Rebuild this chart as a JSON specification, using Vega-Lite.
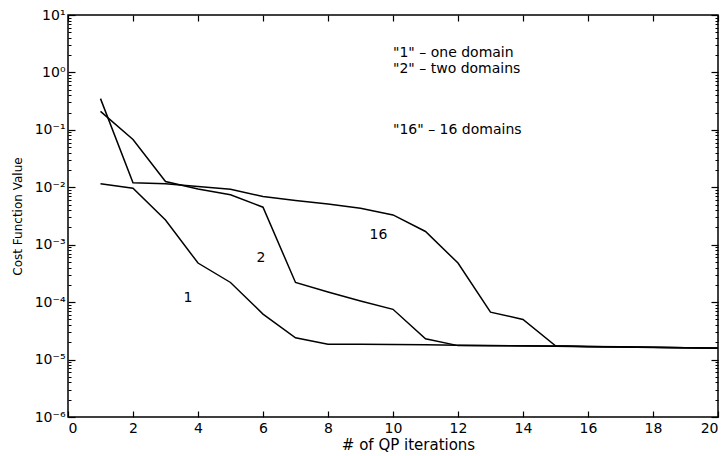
{
  "$schema": "https://vega.github.io/schema/vega-lite/v6.json",
  "width": 650,
  "height": 402,
  "autosize": {"type": "none"},
  "padding": {"left": 68, "top": 15, "right": 8, "bottom": 39},
  "background": "white",
  "config": {
    "view": {"stroke": "black", "strokeWidth": 1.5},
    "font": "DejaVu Sans",
    "axis": {
      "domain": false,
      "tickColor": "black",
      "tickWidth": 1.2,
      "labelColor": "black",
      "titleColor": "black",
      "labelFont": "DejaVu Sans",
      "titleFont": "DejaVu Sans",
      "labelFontSize": 14,
      "titleFontSize": 13,
      "titleFontWeight": "normal",
      "grid": false
    }
  },
  "datasets": {
    "curves": [
      {"iter": 1, "cost": 0.0115, "series": "1"},
      {"iter": 2, "cost": 0.0096, "series": "1"},
      {"iter": 3, "cost": 0.0027, "series": "1"},
      {"iter": 4, "cost": 0.00048, "series": "1"},
      {"iter": 5, "cost": 0.00022, "series": "1"},
      {"iter": 6, "cost": 0.000062, "series": "1"},
      {"iter": 7, "cost": 0.000024, "series": "1"},
      {"iter": 8, "cost": 0.0000185, "series": "1"},
      {"iter": 9, "cost": 0.0000184, "series": "1"},
      {"iter": 10, "cost": 0.0000183, "series": "1"},
      {"iter": 11, "cost": 0.0000181, "series": "1"},
      {"iter": 12, "cost": 0.0000178, "series": "1"},
      {"iter": 13, "cost": 0.0000176, "series": "1"},
      {"iter": 14, "cost": 0.0000174, "series": "1"},
      {"iter": 15, "cost": 0.0000172, "series": "1"},
      {"iter": 16, "cost": 0.0000169, "series": "1"},
      {"iter": 17, "cost": 0.0000166, "series": "1"},
      {"iter": 18, "cost": 0.0000164, "series": "1"},
      {"iter": 19, "cost": 0.0000161, "series": "1"},
      {"iter": 20, "cost": 0.0000158, "series": "1"},
      {"iter": 1, "cost": 0.21, "series": "2"},
      {"iter": 2, "cost": 0.068, "series": "2"},
      {"iter": 3, "cost": 0.0126, "series": "2"},
      {"iter": 4, "cost": 0.0093, "series": "2"},
      {"iter": 5, "cost": 0.0074, "series": "2"},
      {"iter": 6, "cost": 0.0045, "series": "2"},
      {"iter": 7, "cost": 0.00022, "series": "2"},
      {"iter": 8, "cost": 0.00015, "series": "2"},
      {"iter": 9, "cost": 0.000105, "series": "2"},
      {"iter": 10, "cost": 0.000075, "series": "2"},
      {"iter": 11, "cost": 0.000023, "series": "2"},
      {"iter": 12, "cost": 0.0000175, "series": "2"},
      {"iter": 13, "cost": 0.0000174, "series": "2"},
      {"iter": 14, "cost": 0.0000173, "series": "2"},
      {"iter": 15, "cost": 0.0000171, "series": "2"},
      {"iter": 16, "cost": 0.0000168, "series": "2"},
      {"iter": 17, "cost": 0.0000166, "series": "2"},
      {"iter": 18, "cost": 0.0000163, "series": "2"},
      {"iter": 19, "cost": 0.0000161, "series": "2"},
      {"iter": 20, "cost": 0.0000158, "series": "2"},
      {"iter": 1, "cost": 0.35, "series": "16"},
      {"iter": 2, "cost": 0.012, "series": "16"},
      {"iter": 3, "cost": 0.0115, "series": "16"},
      {"iter": 4, "cost": 0.0103, "series": "16"},
      {"iter": 5, "cost": 0.0092, "series": "16"},
      {"iter": 6, "cost": 0.0069, "series": "16"},
      {"iter": 7, "cost": 0.0059, "series": "16"},
      {"iter": 8, "cost": 0.0051, "series": "16"},
      {"iter": 9, "cost": 0.0043, "series": "16"},
      {"iter": 10, "cost": 0.0033, "series": "16"},
      {"iter": 11, "cost": 0.0017, "series": "16"},
      {"iter": 12, "cost": 0.00048, "series": "16"},
      {"iter": 13, "cost": 0.000067, "series": "16"},
      {"iter": 14, "cost": 0.00005, "series": "16"},
      {"iter": 15, "cost": 0.0000174, "series": "16"},
      {"iter": 16, "cost": 0.0000169, "series": "16"},
      {"iter": 17, "cost": 0.0000167, "series": "16"},
      {"iter": 18, "cost": 0.0000164, "series": "16"},
      {"iter": 19, "cost": 0.0000161, "series": "16"},
      {"iter": 20, "cost": 0.0000159, "series": "16"}
    ],
    "curveLabels": [
      {"iter": 3.69, "cost": 0.000117, "label": "1"},
      {"iter": 5.94, "cost": 0.00058, "label": "2"},
      {"iter": 9.55, "cost": 0.00148, "label": "16"}
    ],
    "notes": [
      {"iter": 10.0, "cost": 2.2, "label": "\"1\" – one domain"},
      {"iter": 10.0, "cost": 1.15, "label": "\"2\" – two domains"},
      {"iter": 10.0, "cost": 0.098, "label": "\"16\" – 16 domains"}
    ]
  },
  "resolve": {"axis": {"x": "independent", "y": "independent"}},
  "layer": [
    {
      "data": {"name": "curves"},
      "mark": {"type": "line", "color": "black", "strokeWidth": 1.5},
      "encoding": {
        "x": {
          "field": "iter", "type": "quantitative",
          "scale": {"domain": [0, 20], "nice": false, "zero": false},
          "axis": {
            "orient": "bottom",
            "title": "# of QP iterations",
            "titleFontSize": 15,
            "values": [0, 2, 4, 6, 8, 10, 12, 14, 16, 18, 20],
            "offset": -6,
            "tickSize": 6,
            "labelPadding": 4,
            "titlePadding": 2,
            "titleX": 340
          }
        },
        "y": {
          "field": "cost", "type": "quantitative",
          "scale": {"type": "log", "domain": [0.000001, 10], "nice": false},
          "axis": {
            "orient": "left",
            "title": "Cost Function Value",
            "titleFontSize": 12,
            "values": [0.000001,0.000002,0.000003,0.000004,0.000005,0.000006,0.000007,0.000008,0.000009,
                       0.00001,0.00002,0.00003,0.00004,0.00005,0.00006,0.00007,0.00008,0.00009,
                       0.0001,0.0002,0.0003,0.0004,0.0005,0.0006,0.0007,0.0008,0.0009,
                       0.001,0.002,0.003,0.004,0.005,0.006,0.007,0.008,0.009,
                       0.01,0.02,0.03,0.04,0.05,0.06,0.07,0.08,0.09,
                       0.1,0.2,0.3,0.4,0.5,0.6,0.7,0.8,0.9,
                       1,2,3,4,5,6,7,8,9,10],
            "labelExpr": "abs(log(datum.value)/LN10 - round(log(datum.value)/LN10)) < 0.01 ? ['10⁻⁶','10⁻⁵','10⁻⁴','10⁻³','10⁻²','10⁻¹','10⁰','10¹'][round(log(datum.value)/LN10)+6] : ''",
            "offset": -7,
            "tickSize": 7,
            "tickDash": {"condition": {"test": "abs(log(datum.value)/LN10 - round(log(datum.value)/LN10)) < 0.01", "value": []}, "value": [0, 4, 3, 100]},
            "labelPadding": 3,
            "titlePadding": 10
          }
        },
        "detail": {"field": "series"}
      }
    },
    {
      "data": {"name": "curveLabels"},
      "mark": {"type": "text", "color": "black", "fontSize": 14, "font": "DejaVu Sans"},
      "encoding": {
        "x": {
          "field": "iter", "type": "quantitative",
          "axis": {"orient": "top", "labels": false, "title": null,
                   "values": [0, 2, 4, 6, 8, 10, 12, 14, 16, 18, 20], "offset": -6, "tickSize": 6}
        },
        "y": {
          "field": "cost", "type": "quantitative",
          "axis": {
            "orient": "right", "labels": false, "title": null,
            "values": [0.000001,0.000002,0.000003,0.000004,0.000005,0.000006,0.000007,0.000008,0.000009,
                       0.00001,0.00002,0.00003,0.00004,0.00005,0.00006,0.00007,0.00008,0.00009,
                       0.0001,0.0002,0.0003,0.0004,0.0005,0.0006,0.0007,0.0008,0.0009,
                       0.001,0.002,0.003,0.004,0.005,0.006,0.007,0.008,0.009,
                       0.01,0.02,0.03,0.04,0.05,0.06,0.07,0.08,0.09,
                       0.1,0.2,0.3,0.4,0.5,0.6,0.7,0.8,0.9,
                       1,2,3,4,5,6,7,8,9,10],
            "offset": -7,
            "tickSize": 7,
            "tickDash": {"condition": {"test": "abs(log(datum.value)/LN10 - round(log(datum.value)/LN10)) < 0.01", "value": []}, "value": [0, 4, 3, 100]}
          }
        },
        "text": {"field": "label"}
      }
    },
    {
      "data": {"name": "notes"},
      "mark": {"type": "text", "color": "black", "fontSize": 14, "font": "DejaVu Sans", "align": "left"},
      "encoding": {
        "x": {"field": "iter", "type": "quantitative", "axis": null},
        "y": {"field": "cost", "type": "quantitative", "axis": null},
        "text": {"field": "label"}
      }
    }
  ]
}
